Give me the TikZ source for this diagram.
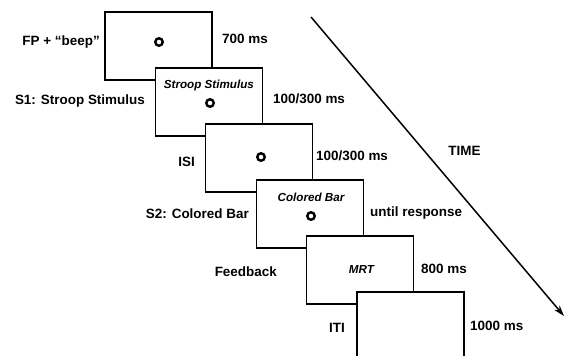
\documentclass[tikz,border=0pt]{standalone}
\usepackage{fontspec}
\setmainfont{Liberation Sans}
\usetikzlibrary{arrows.meta}
\begin{document}
\begin{tikzpicture}[x=1bp,y=-1bp,
  screen/.style={draw, line width=1.2bp, fill=white, minimum width=107bp, minimum height=68bp, inner sep=0pt},
  fixdot/.style={circle, draw, line width=2.4bp, minimum size=7.5bp, inner sep=0pt},
  lbl/.style={font=\fontsize{13.5}{16}\selectfont\bfseries, inner sep=0pt, text height=0.72em, text depth=0pt},
  inlbl/.style={font=\fontsize{11.7}{14}\selectfont\bfseries\itshape, inner sep=0pt, text height=0.72em, text depth=0pt},
  timeline/.style={line width=1.5bp, -{Stealth[length=11bp,width=7bp]}}]
\useasboundingbox (0,0) rectangle (566,355);
\clip (0,0) rectangle (566,355);
% screens
\node[screen] (b0) at (158.5,46) {};
\node[fixdot] (f0) at (159,42) {};
\node[screen] (b1) at (208.9,102) {};
\node[inlbl] (t1) at (208.9,85) {Stroop Stimulus};
\node[fixdot] (f1) at (210,103) {};
\node[screen] (b2) at (259.3,158) {};
\node[fixdot] (f2) at (261,157) {};
\node[screen] (b3) at (309.7,214) {};
\node[inlbl] (t3) at (311,198) {Colored Bar};
\node[fixdot] (f3) at (311,216) {};
\node[screen] (b4) at (360.1,270) {};
\node[inlbl] (t4) at (361.5,270) {MRT};
\node[screen] (b5) at (410.5,326) {};
% left labels
\node[lbl, anchor=east] (l0) at (100,42) {FP + “beep”};
\node[lbl, anchor=east] (l1) at (145,101) {S1: Stroop Stimulus};
\node[lbl, anchor=east] (l2) at (195,163) {ISI};
\node[lbl, anchor=east] (l3) at (249,215) {S2: Colored Bar};
\node[lbl, anchor=east] (l4) at (277,273) {Feedback};
\node[lbl, anchor=east] (l5) at (345,329) {ITI};
% right labels
\node[lbl, anchor=west] (r0) at (222,40) {700 ms};
\node[lbl, anchor=west] (r1) at (273,100) {100/300 ms};
\node[lbl, anchor=west] (r2) at (316,157) {100/300 ms};
\node[lbl, anchor=west] (r3) at (370,213) {until response};
\node[lbl, anchor=west] (r4) at (421,270) {800 ms};
\node[lbl, anchor=west] (r5) at (470,327) {1000 ms};
% time arrow
\node[lbl] (time) at (464.5,152) {TIME};
\coordinate (ta) at (311,17);
\coordinate (tb) at (564,316);
\draw[timeline] (ta) -- (tb);
\end{tikzpicture}
\end{document}
